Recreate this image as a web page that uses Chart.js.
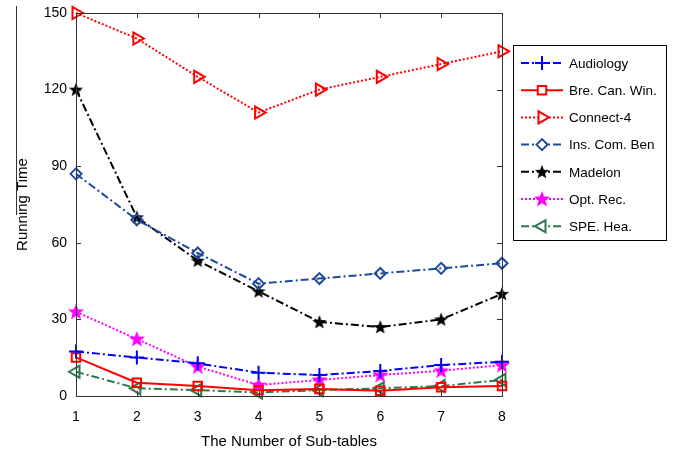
<!DOCTYPE html>
<html>
<head>
<meta charset="utf-8">
<script src="https://cdn.jsdelivr.net/npm/chart.js@4.4.1/dist/chart.umd.min.js"></script>
<style>
  html, body { margin: 0; padding: 0; background: #fff; }
  #wrap { width: 676px; height: 451px; }
</style>
</head>
<body>
<div id="wrap"><canvas id="chart" width="676" height="451"></canvas></div>
<script>
// x 축: 서브테이블 수
const subTables = ['1', '2', '3', '4', '5', '6', '7', '8'];
const yTicks = [0, 30, 60, 90, 120, 150];

// 각 데이터셋 실행 시간
const audiology   = [17.4, 15.1, 12.8, 9.1, 8.2, 9.8, 12.1, 13.4];
const breCanWin   = [15.1, 5.2, 3.9, 2.3, 2.7, 2.1, 3.4, 3.9];
const connect4    = [150, 140, 125, 111, 120, 125, 130, 135];
const insComBen   = [87, 69, 56, 44, 46, 48, 50, 52];
const madelon     = [120, 70, 53, 41, 29, 27, 30, 40];
const optRec      = [33, 22.3, 11.5, 4.3, 6.3, 8.2, 9.9, 12.1];
const speHea      = [9.5, 3, 2.3, 1.4, 2.3, 3, 3.9, 6.3];

const FONT = "'Liberation Sans', Arial, sans-serif";
const DASHDOT = [8, 3, 2, 3];
const DOTTED = [2, 2];

// 채워진 별 마커 (Chart.js 기본 star는 선만 그림)
function starImage(color, size){
  const c = document.createElement('canvas');
  c.width = size; c.height = size;
  const g = c.getContext('2d');
  const cx = size/2, cy = size/2 + 0.5, ro = size/2 - 0.5, ri = ro*0.42;
  g.beginPath();
  for (let i = 0; i < 10; i++){
    const r = i % 2 ? ri : ro;
    const a = -Math.PI/2 + i*Math.PI/5;
    g.lineTo(cx + r*Math.cos(a), cy + r*Math.sin(a));
  }
  g.closePath();
  g.fillStyle = color; g.fill();
  return c;
}
const blackStar = starImage('#000', 16);
const pinkStar  = starImage('#ff00ff', 18);

const series = [
  { label: 'Audiology',       data: audiology, color: '#0000ff', dash: DASHDOT, style: 'cross',    rot: 0,   r: 7, bw: 2 },
  { label: 'Bre. Can. Win.',  data: breCanWin, color: '#ff0000', dash: [],      style: 'rect',     rot: 0,   r: 6, bw: 2 },
  { label: 'Connect-4',       data: connect4,  color: '#ff0000', dash: DOTTED,  style: 'triangle', rot: 90,  r: 7, bw: 2 },
  { label: 'Ins. Com. Ben',   data: insComBen, color: '#1f4a9c', dash: DASHDOT, style: 'rectRot',  rot: 0,   r: 5.5, bw: 2 },
  { label: 'Madelon',         data: madelon,   color: '#000000', dash: DASHDOT, style: blackStar,  rot: 0,   r: 8, bw: 1 },
  { label: 'Opt. Rec.',       data: optRec,    color: '#ff00ff', dash: DOTTED,  style: pinkStar,   rot: 0,   r: 9, bw: 1 },
  { label: 'SPE. Hea.',       data: speHea,    color: '#2a7a4a', dash: DASHDOT, style: 'triangle', rot: -90, r: 7, bw: 2 }
];

// MATLAB 스타일 박스 + 안쪽 눈금
const boxPlugin = {
  id: 'box',
  afterDraw(chart){
    const { ctx, chartArea: a, scales } = chart;
    ctx.save();
    ctx.strokeStyle = '#333'; ctx.lineWidth = 1; ctx.setLineDash([]);
    ctx.strokeRect(a.left + 0.5, a.top + 0.5, a.right - a.left, a.bottom - a.top);
    ctx.beginPath();
    subTables.forEach((_, i) => {
      const x = Math.round(scales.x.getPixelForValue(i)) + 0.5;
      ctx.moveTo(x, a.bottom); ctx.lineTo(x, a.bottom - 5);
      ctx.moveTo(x, a.top); ctx.lineTo(x, a.top + 5);
    });
    yTicks.forEach(v => {
      const y = Math.round(scales.y.getPixelForValue(v)) + 0.5;
      ctx.moveTo(a.left, y); ctx.lineTo(a.left + 5, y);
      ctx.moveTo(a.right, y); ctx.lineTo(a.right - 5, y);
    });
    // 원본 이미지 왼쪽의 세로선
    ctx.moveTo(16.5, 6); ctx.lineTo(16.5, 215);
    ctx.stroke();
    ctx.restore();
  }
};

// 오른쪽 범례 박스
const legendPlugin = {
  id: 'sideLegend',
  afterDraw(chart){
    const { ctx } = chart;
    const L = 513, T = 45, W = 153, H = 195, rowH = 27.2;
    ctx.save();
    ctx.fillStyle = '#fff';
    ctx.fillRect(L, T, W, H);
    ctx.strokeStyle = '#000'; ctx.lineWidth = 1; ctx.setLineDash([]);
    ctx.strokeRect(L + 0.5, T + 0.5, W, H);
    ctx.beginPath(); ctx.rect(L + 1, T + 1, W - 1, H - 1); ctx.clip();
    chart.data.datasets.forEach((ds, i) => {
      const y = T + 18 + i*rowH;
      ctx.strokeStyle = ds.borderColor; ctx.lineWidth = ds.borderWidth;
      ctx.setLineDash(ds.borderDash || []);
      ctx.beginPath(); ctx.moveTo(L + 8, y); ctx.lineTo(L + 50, y); ctx.stroke();
      ctx.setLineDash([]);
      ctx.fillStyle = '#fff';
      ctx.lineWidth = ds.pointBorderWidth;
      ctx.strokeStyle = ds.pointBorderColor;
      Chart.helpers.drawPoint(ctx, { pointStyle: ds.pointStyle, rotation: ds.pointRotation, radius: ds.pointRadius, borderWidth: ds.pointBorderWidth }, L + 29, y);
      ctx.fillStyle = '#000';
      ctx.font = '13.5px ' + FONT;
      ctx.textBaseline = 'middle';
      ctx.fillText(ds.label, L + 56, y + 1);
    });
    ctx.restore();
  }
};

new Chart(document.getElementById('chart'), {
  type: 'line',
  data: {
    labels: subTables,
    datasets: series.map(s => ({
      label: s.label,
      data: s.data,
      borderColor: s.color,
      backgroundColor: '#fff',
      borderWidth: 2,
      borderDash: s.dash,
      pointStyle: s.style,
      pointRotation: s.rot,
      pointRadius: s.r,
      pointBorderColor: s.color,
      pointBackgroundColor: 'rgba(255,255,255,0)',
      pointBorderWidth: s.bw,
      tension: 0,
      clip: false
    }))
  },
  options: {
    responsive: false,
    animation: false,
    layout: { padding: { left: 14, top: 13, right: 174, bottom: 0 } },
    plugins: { legend: { display: false }, tooltip: { enabled: false } },
    scales: {
      x: {
        offset: false,
        grid: { display: false, drawTicks: false },
        border: { display: false },
        ticks: { color: '#000', font: { family: FONT, size: 14 }, padding: 13, maxRotation: 0 },
        title: { display: true, text: 'The Number of Sub-tables', color: '#000', font: { family: FONT, size: 15 }, padding: { top: 0, bottom: 0 } },
        afterFit: s => { s.height = 55; s.paddingLeft = 0; s.paddingRight = 0; }
      },
      y: {
        min: 0, max: 150,
        afterBuildTicks: s => { s.ticks = yTicks.map(v => ({ value: v })); },
        grid: { display: false, drawTicks: false },
        border: { display: false },
        ticks: { color: '#000', font: { family: FONT, size: 14 }, padding: 9 },
        title: { display: true, text: 'Running Time', color: '#000', font: { family: FONT, size: 15 }, padding: { top: 0, bottom: 0 } },
        afterFit: s => { s.width = 62; s.paddingTop = 0; s.paddingBottom = 0; }
      }
    }
  },
  plugins: [boxPlugin, legendPlugin]
});
</script>
</body>
</html>
